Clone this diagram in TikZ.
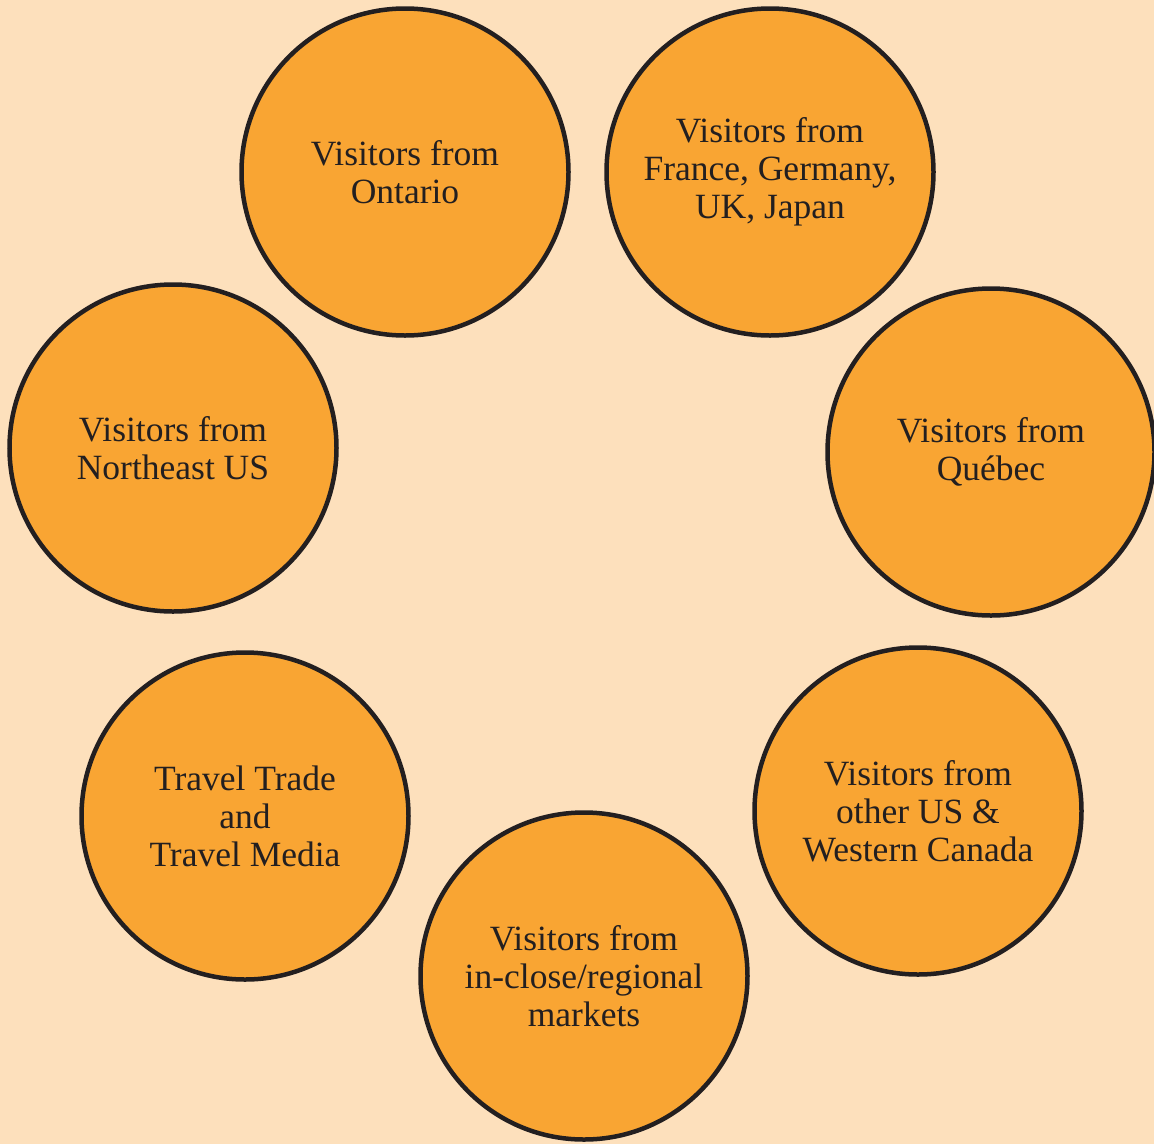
\documentclass[tikz,border=0pt]{standalone}
\usepackage{fontspec}
\setmainfont{Liberation Serif}
\definecolor{bgpeach}{HTML}{FDE0BC}
\definecolor{disc}{HTML}{F9A533}
\definecolor{ink}{HTML}{231F20}
\begin{document}
\begin{tikzpicture}[x=1pt,y=-1pt,
  market/.style={circle,draw=ink,line width=4.5pt,fill=disc,minimum size=327pt,inner sep=0pt,
    text=ink,align=center,font=\fontsize{35.5}{38}\selectfont}]
\fill[bgpeach] (0,0) rectangle (1154,1144);
\useasboundingbox (0,0) rectangle (1154,1144);
\node[market] (ontario) at (405,172) {Visitors from\\Ontario};
\node[market] (europe) at (770,172) {Visitors from\\France, Germany,\\UK, Japan};
\node[market] (quebec) at (991,452) {Visitors from\\Québec};
\node[market] (neus) at (173,448) {Visitors from\\Northeast US};
\node[market] (trade) at (245,816) {Travel Trade\\and\\Travel Media};
\node[market] (otherus) at (918,811) {Visitors from\\other US \&\\Western Canada};
\node[market] (regional) at (584,976) {Visitors from\\in-close/regional\\markets};
\end{tikzpicture}
\end{document}
